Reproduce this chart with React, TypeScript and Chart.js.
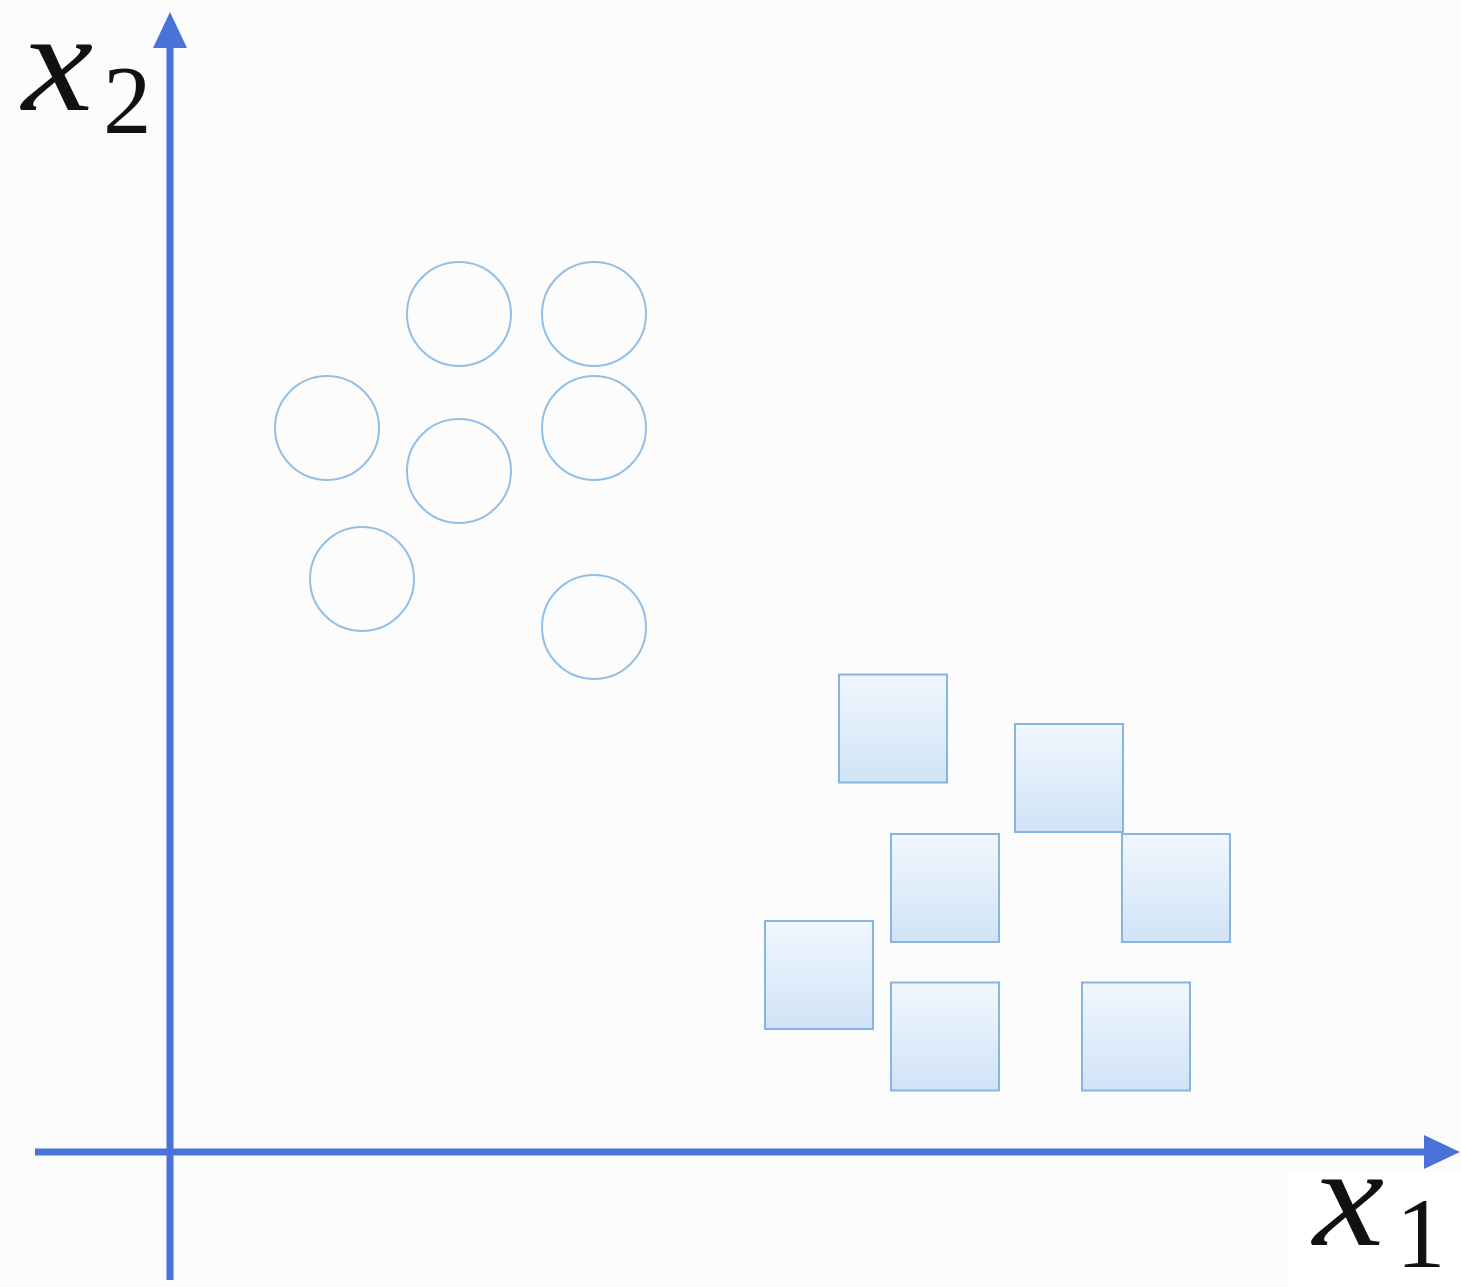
import React, { useEffect, useRef } from "react";
import { Chart, registerables } from "chart.js";

Chart.register(...registerables);

// Class A (circles): x1 and x2 values
const circleX1 = [2.89, 4.24, 1.57, 4.24, 2.89, 1.92, 4.24];
const circleX2 = [8.38, 8.38, 7.24, 7.24, 6.81, 5.73, 5.25];

// Class B (squares): x1 and x2 values
const squareX1 = [7.23, 8.99, 7.75, 10.06, 6.49, 7.75, 9.66];
const squareX2 = [4.235, 3.74, 2.64, 2.64, 1.77, 1.155, 1.155];

// Axis labels
const xAxisLabel = ["x", "1"];
const yAxisLabel = ["x", "2"];

const W = 1461;
const H = 1287;
const AXIS_COLOR = "#4a73d8";

function drawItalicX(ctx: CanvasRenderingContext2D, text: string, x: number, y: number) {
  ctx.save();
  ctx.translate(x, y);
  ctx.scale(1.13, 1);
  ctx.font = "italic 142px 'Liberation Serif'";
  ctx.fillText(text, 0, 0);
  ctx.restore();
}

const axesPlugin = {
  id: "mathAxes",
  beforeDatasetsDraw(chart: any) {
    const { ctx, scales } = chart;
    const xs = scales.x;
    const ys = scales.y;
    ctx.save();
    ctx.fillStyle = "#fcfcfd";
    ctx.fillRect(0, 0, chart.width, chart.height);
    ctx.fillStyle = "#ffffff";
    ctx.fillRect(1288, 1172, 173, 115);

    const ox = xs.getPixelForValue(0);
    const oy = ys.getPixelForValue(0);
    const xStart = xs.getPixelForValue(-1.35);
    const xEnd = xs.getPixelForValue(12.9);
    const yStart = ys.getPixelForValue(-1.28);
    const yEnd = ys.getPixelForValue(11.4);

    ctx.strokeStyle = AXIS_COLOR;
    ctx.fillStyle = AXIS_COLOR;
    ctx.lineWidth = 7;
    ctx.lineCap = "butt";
    // x axis
    ctx.beginPath();
    ctx.moveTo(xStart, oy);
    ctx.lineTo(xEnd - 30, oy);
    ctx.stroke();
    ctx.beginPath();
    ctx.moveTo(xEnd, oy);
    ctx.lineTo(xEnd - 36, oy - 17);
    ctx.lineTo(xEnd - 36, oy + 17);
    ctx.closePath();
    ctx.fill();
    // y axis
    ctx.beginPath();
    ctx.moveTo(ox, yStart);
    ctx.lineTo(ox, yEnd + 30);
    ctx.stroke();
    ctx.beginPath();
    ctx.moveTo(ox, yEnd);
    ctx.lineTo(ox - 17, yEnd + 36);
    ctx.lineTo(ox + 17, yEnd + 36);
    ctx.closePath();
    ctx.fill();

    // labels
    ctx.fillStyle = "#111111";
    ctx.textBaseline = "alphabetic";
    ctx.textAlign = "left";
    drawItalicX(ctx, yAxisLabel[0], 22, 110);
    ctx.font = "97px 'Liberation Serif'";
    ctx.fillText(yAxisLabel[1], 103, 133);

    drawItalicX(ctx, xAxisLabel[0], 1313, 1245);
    ctx.font = "99px 'Liberation Serif'";
    ctx.fillText(xAxisLabel[1], 1396, 1267);
    ctx.restore();
  },
};

export default function App() {
  const ref = useRef<HTMLCanvasElement | null>(null);

  useEffect(() => {
    if (!ref.current) return;
    const squareFill = (c: any) => {
      const chart = c.chart;
      const ys = chart.scales && chart.scales.y;
      if (!ys || !c.parsed) return "#dfecf9";
      const py = ys.getPixelForValue(c.parsed.y);
      if (!Number.isFinite(py)) return "#dfecf9";
      const g = chart.ctx.createLinearGradient(0, py - 54, 0, py + 54);
      g.addColorStop(0, "#f1f7fe");
      g.addColorStop(1, "#d0e3f6");
      return g;
    };
    const chart = new Chart(ref.current, {
      type: "scatter",
      data: {
        datasets: [
          {
            label: "circles",
            data: circleX1.map((x, i) => ({ x, y: circleX2[i] })),
            pointStyle: "circle",
            pointRadius: 52,
            pointBorderWidth: 2,
            borderColor: "#92bfe6",
            backgroundColor: "rgba(255,255,255,0)",
            pointHoverRadius: 52,
          },
          {
            label: "squares",
            data: squareX1.map((x, i) => ({ x, y: squareX2[i] })),
            pointStyle: "rect",
            pointRadius: 76.4,
            pointHoverRadius: 76.4,
            pointBorderWidth: 2,
            borderColor: "#88b5e0",
            backgroundColor: squareFill as any,
          },
        ],
      },
      options: {
        responsive: false,
        animation: false,
        events: [],
        layout: { padding: 0, autoPadding: false },
        plugins: { legend: { display: false }, tooltip: { enabled: false } },
        scales: {
          x: { type: "linear", display: false, min: -1.7, max: 12.91 },
          y: { type: "linear", display: false, min: -1.35, max: 11.52 },
        },
      },
      plugins: [axesPlugin],
    });
    return () => chart.destroy();
  }, []);

  return (
    <div style={{ position: "absolute", left: 0, top: 0, width: W, height: H }}>
      <canvas ref={ref} width={W} height={H} style={{ width: W, height: H }} />
    </div>
  );
}
